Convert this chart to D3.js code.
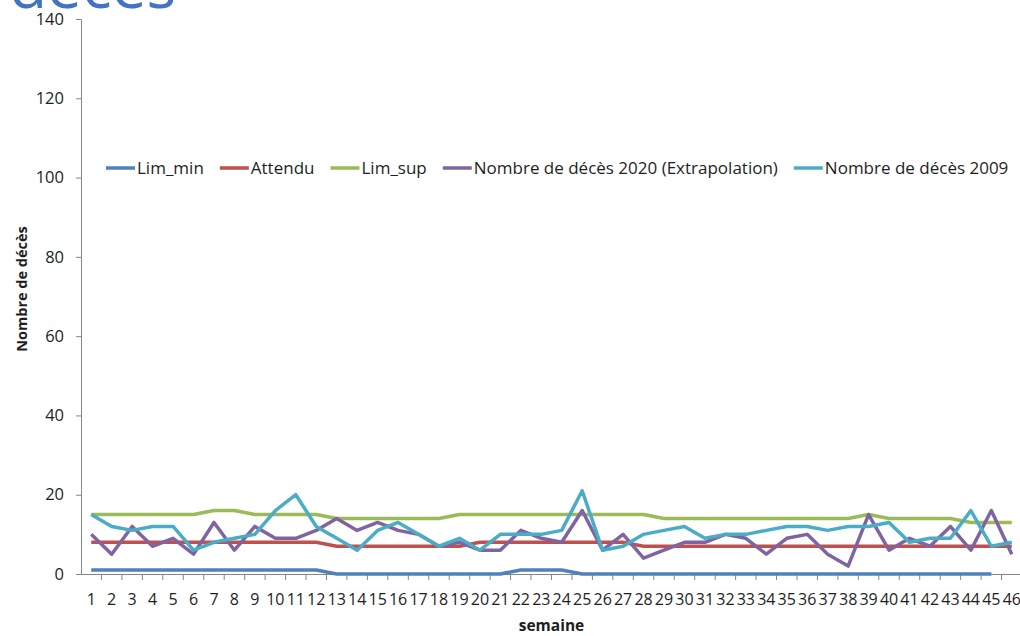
<!DOCTYPE html>
<html>
<head>
<meta charset="utf-8">
<script src="https://cdn.jsdelivr.net/npm/d3@7"></script>
<style>
  body { margin: 0; background: #fff; }
  text { font-family: "Open Sans", "DejaVu Sans", sans-serif; }
</style>
</head>
<body>
<svg id="chart" width="1020" height="636"></svg>
<script>
// data
var weeks = [1,2,3,4,5,6,7,8,9,10,11,12,13,14,15,16,17,18,19,20,21,22,23,
             24,25,26,27,28,29,30,31,32,33,34,35,36,37,38,39,40,41,42,43,44,45,46];

var limMin = [1,1,1,1,1,1,1,1,1,1,1,1,0,0,0,0,0,0,0,0,0,1,1,1,0,0,0,
              0,0,0,0,0,0,0,0,0,0,0,0,0,0,0,0,0,0,null];
var attendu = [8,8,8,8,8,8,8,8,8,8,8,8,7,7,7,7,7,7,7,8,8,8,8,8,8,8,8,
               7,7,7,7,7,7,7,7,7,7,7,7,7,7,7,7,7,7,7];
var limSup = [15,15,15,15,15,15,16,16,15,15,15,15,14,14,14,14,14,14,15,15,15,15,15,
              15,15,15,15,15,14,14,14,14,14,14,14,14,14,14,15,14,14,14,14,13,13,13];
var deces2020 = [10,5,12,7,9,5,13,6,12,9,9,11,14,11,13,11,10,7,8,6,6,11,9,
                 8,16,6,10,4,6,8,8,10,9,5,9,10,5,2,15,6,9,7,12,6,16,5];
var deces2009 = [15,12,11,12,12,6,8,9,10,16,20,12,9,6,11,13,10,7,9,6,10,10,10,
                 11,21,6,7,10,11,12,9,10,10,11,12,12,11,12,12,13,8,9,9,16,7,8];

var yTicks = [0,20,40,60,80,100,120,140];

var series = [
  {name: "Lim_min", values: limMin, color: "#4F81BD"},
  {name: "Attendu", values: attendu, color: "#C0504D"},
  {name: "Lim_sup", values: limSup, color: "#9BBB59"},
  {name: "Nombre de décès 2020 (Extrapolation)", values: deces2020, color: "#8064A2"},
  {name: "Nombre de décès 2009", values: deces2009, color: "#4BACC6"}
];

var plotLeft = 81, plotRight = 1022, plotTop = 19, plotBottom = 574;
var axisColor = "#868686", textColor = "#1e1e1e";

var svg = d3.select("#chart");

var xScale = d3.scaleBand().domain(weeks).range([plotLeft, plotRight]).padding(0);
var yScale = d3.scaleLinear().domain([0, 140]).range([plotBottom, plotTop]);

// cut-off title at the very top
svg.append("text")
  .attr("x", 176).attr("y", 8)
  .attr("text-anchor", "end")
  .style("font-size", "62px")
  .attr("fill", "#4472C4")
  .text("Nombre de décès");

// y axis
var yAxis = d3.axisLeft(yScale).tickValues(yTicks).tickSize(5).tickPadding(12);
var yG = svg.append("g").attr("transform", "translate(" + plotLeft + ",0)").call(yAxis);
yG.select(".domain").attr("stroke", axisColor);
yG.selectAll(".tick line").attr("stroke", axisColor);
yG.selectAll(".tick text").attr("fill", textColor)
  .style("font-size", "16.5px").style("font-family", "Open Sans");

// x axis: labels at band centres, ticks at band edges
var xAxis = d3.axisBottom(xScale).tickSize(0).tickPadding(20);
var xG = svg.append("g").attr("transform", "translate(0," + plotBottom + ")").call(xAxis);
xG.select(".domain").attr("stroke", axisColor);
xG.selectAll(".tick text").attr("fill", textColor)
  .style("font-size", "16px").style("font-family", "Open Sans");

xG.selectAll(".edge")
  .data(weeks.slice(1))
  .enter().append("line")
  .attr("class", "edge")
  .attr("x1", d => xScale(d)).attr("x2", d => xScale(d))
  .attr("y1", 0).attr("y2", 6)
  .attr("stroke", axisColor);

// axis titles
svg.append("text")
  .attr("transform", "translate(27,289) rotate(-90)")
  .attr("text-anchor", "middle")
  .style("font-size", "14.5px").style("font-weight", "bold")
  .attr("fill", textColor)
  .text("Nombre de décès");

svg.append("text")
  .attr("x", (plotLeft + plotRight) / 2).attr("y", 631)
  .attr("text-anchor", "middle")
  .style("font-size", "15.5px").style("font-weight", "bold")
  .attr("fill", textColor)
  .text("semaine");

// lines
var lineGen = d3.line()
  .defined(d => d.v != null)
  .x(d => xScale(d.w) + xScale.bandwidth() / 2)
  .y(d => yScale(d.v));

svg.append("g").selectAll("path")
  .data(series)
  .enter().append("path")
  .attr("d", s => lineGen(s.values.map((v, i) => ({w: weeks[i], v: v}))))
  .attr("fill", "none")
  .attr("stroke", s => s.color)
  .attr("stroke-width", 3.5)
  .attr("stroke-linejoin", "round");

// legend
var legend = svg.append("g");
var lx = 106, ly = 168;
series.forEach(function(s) {
  legend.append("line")
    .attr("x1", lx).attr("x2", lx + 29)
    .attr("y1", ly).attr("y2", ly)
    .attr("stroke", s.color).attr("stroke-width", 3.5);
  var t = legend.append("text")
    .attr("x", lx + 31).attr("y", ly + 6)
    .style("font-size", "17px")
    .attr("fill", textColor)
    .text(s.name);
  lx += 31 + t.node().getComputedTextLength() + 16;
});
</script>
</body>
</html>
